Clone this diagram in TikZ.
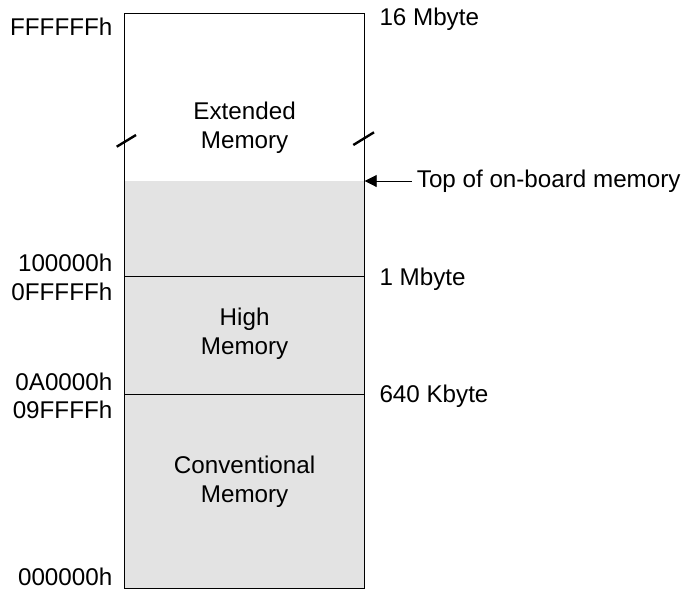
\documentclass[tikz,border=0pt]{standalone}
\usepackage{fontspec}
\setmainfont{Liberation Sans}
\usepackage{tikz}
\usetikzlibrary{arrows.meta, positioning, calc}
\definecolor{mem-gray}{RGB}{227,227,227}

\begin{document}
\begin{tikzpicture}[
    x=1pt, y=-1pt,
    every node/.style={font=\fontsize{24.2}{29}\selectfont, inner sep=0pt},
    region/.style={rectangle, minimum width=240.2pt, outer sep=0pt},
    addr/.style={anchor=base east},
    size/.style={anchor=base west},
    breakmark/.style={line width=2.4pt},
    pointer/.style={-{Triangle[length=12pt, width=12pt]}, line width=0.9pt}
]
\useasboundingbox (0,0) rectangle (683,590);

% Memory map (box)
\node[region, anchor=north west, minimum height=168pt] (ext) at (124.5,13) {};
\node[region, fill=mem-gray, below=0pt of ext, minimum height=95pt] (onboard) {};
\node[region, fill=mem-gray, below=0pt of onboard, minimum height=118pt] (high) {};
\node[region, fill=mem-gray, below=0pt of high, minimum height=194pt] (conv) {};
\draw[line width=0.9pt] (ext.north west) rectangle (conv.south east);
\draw[line width=0.9pt] (high.north west) -- (high.north east);
\draw[line width=0.9pt] (conv.north west) -- (conv.north east);

\node[align=center] (ext-text) at (244.6,127.6) {Extended\\Memory};
\node[align=center] (high-text) at (244.6,333.3) {High\\Memory};
\node[align=center] (conv-text) at (244.6,482) {Conventional\\Memory};

% break marks
\draw[breakmark] (116.7,146.7) -- (136,135);
\draw[breakmark] (353.3,145) -- (374,132.3);

% Addresses (left side)
\node[addr] (a-top) at (112.5,35) {FFFFFFh};
\node[addr] (a-1m) at (112.5,271.7) {100000h};
\node[addr] (a-1m-1) at (112.5,300) {0FFFFFh};
\node[addr] (a-640k) at (112.5,390) {0A0000h};
\node[addr] (a-640k-1) at (112.5,418.3) {09FFFFh};
\node[addr] (a-zero) at (112.5,585.5) {000000h};

% Sizes (right side)
\node[size] (s-16m) at (379.3,25) {16 Mbyte};
\node[size] (s-1m) at (379.3,285) {1 Mbyte};
\node[size] (s-640k) at (379.3,402.7) {640 Kbyte};

\node[inner xsep=5pt, right=47pt of onboard.north east, anchor=west] (board) {Top of on-board memory};
\draw[pointer] (board.west) -- (onboard.north east);

\end{tikzpicture}
\end{document}
